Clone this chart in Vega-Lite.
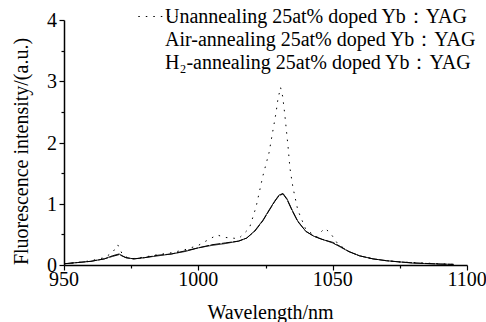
{
  "$schema": "https://vega.github.io/schema/vega-lite/v6.json",
  "width": 403,
  "height": 245,
  "autosize": {"type": "none"},
  "padding": {"left": 64, "top": 20, "right": 19, "bottom": 57},
  "background": "white",
  "config": {
    "font": "Liberation Serif",
    "view": {"stroke": null},
    "style": {"guide-label": {"font": "Liberation Serif"}, "guide-title": {"font": "Liberation Serif"}}
  },
  "datasets": {
    "xt": [{"t": 950}, {"t": 1000}, {"t": 1050}, {"t": 1100}],
    "yt": [{"v": 0}, {"v": 1}, {"v": 2}, {"v": 3}, {"v": 4}],
    "curves": [
      {"s": "Unannealing 25at% doped Yb：YAG", "wl": 950, "I": 0.02},
      {"s": "Unannealing 25at% doped Yb：YAG", "wl": 955, "I": 0.04},
      {"s": "Unannealing 25at% doped Yb：YAG", "wl": 960, "I": 0.07},
      {"s": "Unannealing 25at% doped Yb：YAG", "wl": 965, "I": 0.12},
      {"s": "Unannealing 25at% doped Yb：YAG", "wl": 968, "I": 0.2},
      {"s": "Unannealing 25at% doped Yb：YAG", "wl": 970, "I": 0.33},
      {"s": "Unannealing 25at% doped Yb：YAG", "wl": 972, "I": 0.15},
      {"s": "Unannealing 25at% doped Yb：YAG", "wl": 975, "I": 0.1},
      {"s": "Unannealing 25at% doped Yb：YAG", "wl": 980, "I": 0.13},
      {"s": "Unannealing 25at% doped Yb：YAG", "wl": 985, "I": 0.17},
      {"s": "Unannealing 25at% doped Yb：YAG", "wl": 990, "I": 0.2},
      {"s": "Unannealing 25at% doped Yb：YAG", "wl": 995, "I": 0.25},
      {"s": "Unannealing 25at% doped Yb：YAG", "wl": 1000, "I": 0.32},
      {"s": "Unannealing 25at% doped Yb：YAG", "wl": 1004, "I": 0.42},
      {"s": "Unannealing 25at% doped Yb：YAG", "wl": 1007, "I": 0.49},
      {"s": "Unannealing 25at% doped Yb：YAG", "wl": 1010, "I": 0.45},
      {"s": "Unannealing 25at% doped Yb：YAG", "wl": 1015, "I": 0.43},
      {"s": "Unannealing 25at% doped Yb：YAG", "wl": 1019, "I": 0.6},
      {"s": "Unannealing 25at% doped Yb：YAG", "wl": 1021.5, "I": 0.95},
      {"s": "Unannealing 25at% doped Yb：YAG", "wl": 1022.6, "I": 1.17},
      {"s": "Unannealing 25at% doped Yb：YAG", "wl": 1024, "I": 1.45},
      {"s": "Unannealing 25at% doped Yb：YAG", "wl": 1026.3, "I": 1.83},
      {"s": "Unannealing 25at% doped Yb：YAG", "wl": 1028.9, "I": 2.48},
      {"s": "Unannealing 25at% doped Yb：YAG", "wl": 1029.6, "I": 2.7},
      {"s": "Unannealing 25at% doped Yb：YAG", "wl": 1030.6, "I": 2.9},
      {"s": "Unannealing 25at% doped Yb：YAG", "wl": 1031.4, "I": 2.75},
      {"s": "Unannealing 25at% doped Yb：YAG", "wl": 1032.2, "I": 2.45},
      {"s": "Unannealing 25at% doped Yb：YAG", "wl": 1033.4, "I": 1.93},
      {"s": "Unannealing 25at% doped Yb：YAG", "wl": 1034.1, "I": 1.58},
      {"s": "Unannealing 25at% doped Yb：YAG", "wl": 1035.2, "I": 1.27},
      {"s": "Unannealing 25at% doped Yb：YAG", "wl": 1037, "I": 0.9},
      {"s": "Unannealing 25at% doped Yb：YAG", "wl": 1040, "I": 0.58},
      {"s": "Unannealing 25at% doped Yb：YAG", "wl": 1044, "I": 0.46},
      {"s": "Unannealing 25at% doped Yb：YAG", "wl": 1047, "I": 0.6},
      {"s": "Unannealing 25at% doped Yb：YAG", "wl": 1049, "I": 0.53},
      {"s": "Unannealing 25at% doped Yb：YAG", "wl": 1052, "I": 0.34},
      {"s": "Unannealing 25at% doped Yb：YAG", "wl": 1056, "I": 0.22},
      {"s": "Unannealing 25at% doped Yb：YAG", "wl": 1060, "I": 0.15},
      {"s": "Unannealing 25at% doped Yb：YAG", "wl": 1065, "I": 0.1},
      {"s": "Unannealing 25at% doped Yb：YAG", "wl": 1070, "I": 0.07},
      {"s": "Unannealing 25at% doped Yb：YAG", "wl": 1075, "I": 0.05},
      {"s": "Unannealing 25at% doped Yb：YAG", "wl": 1080, "I": 0.04},
      {"s": "Unannealing 25at% doped Yb：YAG", "wl": 1090, "I": 0.02},
      {"s": "Unannealing 25at% doped Yb：YAG", "wl": 1095, "I": 0.01},

      {"s": "Air-annealing 25at% doped Yb：YAG", "wl": 950, "I": 0.02},
      {"s": "Air-annealing 25at% doped Yb：YAG", "wl": 955, "I": 0.04},
      {"s": "Air-annealing 25at% doped Yb：YAG", "wl": 960, "I": 0.06},
      {"s": "Air-annealing 25at% doped Yb：YAG", "wl": 965, "I": 0.1},
      {"s": "Air-annealing 25at% doped Yb：YAG", "wl": 968, "I": 0.14},
      {"s": "Air-annealing 25at% doped Yb：YAG", "wl": 970.5, "I": 0.17},
      {"s": "Air-annealing 25at% doped Yb：YAG", "wl": 973, "I": 0.12},
      {"s": "Air-annealing 25at% doped Yb：YAG", "wl": 976, "I": 0.1},
      {"s": "Air-annealing 25at% doped Yb：YAG", "wl": 980, "I": 0.12},
      {"s": "Air-annealing 25at% doped Yb：YAG", "wl": 985, "I": 0.16},
      {"s": "Air-annealing 25at% doped Yb：YAG", "wl": 990, "I": 0.18},
      {"s": "Air-annealing 25at% doped Yb：YAG", "wl": 995, "I": 0.23},
      {"s": "Air-annealing 25at% doped Yb：YAG", "wl": 1000, "I": 0.28},
      {"s": "Air-annealing 25at% doped Yb：YAG", "wl": 1005, "I": 0.33},
      {"s": "Air-annealing 25at% doped Yb：YAG", "wl": 1010, "I": 0.36},
      {"s": "Air-annealing 25at% doped Yb：YAG", "wl": 1015, "I": 0.39},
      {"s": "Air-annealing 25at% doped Yb：YAG", "wl": 1018, "I": 0.44},
      {"s": "Air-annealing 25at% doped Yb：YAG", "wl": 1021, "I": 0.55},
      {"s": "Air-annealing 25at% doped Yb：YAG", "wl": 1024, "I": 0.72},
      {"s": "Air-annealing 25at% doped Yb：YAG", "wl": 1026.5, "I": 0.9},
      {"s": "Air-annealing 25at% doped Yb：YAG", "wl": 1028.5, "I": 1.04},
      {"s": "Air-annealing 25at% doped Yb：YAG", "wl": 1030, "I": 1.13},
      {"s": "Air-annealing 25at% doped Yb：YAG", "wl": 1031.5, "I": 1.16},
      {"s": "Air-annealing 25at% doped Yb：YAG", "wl": 1033, "I": 1.07},
      {"s": "Air-annealing 25at% doped Yb：YAG", "wl": 1035, "I": 0.88},
      {"s": "Air-annealing 25at% doped Yb：YAG", "wl": 1037, "I": 0.71},
      {"s": "Air-annealing 25at% doped Yb：YAG", "wl": 1040, "I": 0.55},
      {"s": "Air-annealing 25at% doped Yb：YAG", "wl": 1043, "I": 0.47},
      {"s": "Air-annealing 25at% doped Yb：YAG", "wl": 1046, "I": 0.42},
      {"s": "Air-annealing 25at% doped Yb：YAG", "wl": 1050, "I": 0.37},
      {"s": "Air-annealing 25at% doped Yb：YAG", "wl": 1053, "I": 0.3},
      {"s": "Air-annealing 25at% doped Yb：YAG", "wl": 1056, "I": 0.22},
      {"s": "Air-annealing 25at% doped Yb：YAG", "wl": 1060, "I": 0.15},
      {"s": "Air-annealing 25at% doped Yb：YAG", "wl": 1065, "I": 0.1},
      {"s": "Air-annealing 25at% doped Yb：YAG", "wl": 1070, "I": 0.07},
      {"s": "Air-annealing 25at% doped Yb：YAG", "wl": 1075, "I": 0.05},
      {"s": "Air-annealing 25at% doped Yb：YAG", "wl": 1080, "I": 0.035},
      {"s": "Air-annealing 25at% doped Yb：YAG", "wl": 1090, "I": 0.015},
      {"s": "Air-annealing 25at% doped Yb：YAG", "wl": 1095, "I": 0.01},

      {"s": "H₂-annealing 25at% doped Yb：YAG", "wl": 950, "I": 0.02},
      {"s": "H₂-annealing 25at% doped Yb：YAG", "wl": 955, "I": 0.04},
      {"s": "H₂-annealing 25at% doped Yb：YAG", "wl": 960, "I": 0.06},
      {"s": "H₂-annealing 25at% doped Yb：YAG", "wl": 965, "I": 0.1},
      {"s": "H₂-annealing 25at% doped Yb：YAG", "wl": 968, "I": 0.15},
      {"s": "H₂-annealing 25at% doped Yb：YAG", "wl": 970.5, "I": 0.18},
      {"s": "H₂-annealing 25at% doped Yb：YAG", "wl": 973, "I": 0.12},
      {"s": "H₂-annealing 25at% doped Yb：YAG", "wl": 976, "I": 0.1},
      {"s": "H₂-annealing 25at% doped Yb：YAG", "wl": 980, "I": 0.12},
      {"s": "H₂-annealing 25at% doped Yb：YAG", "wl": 985, "I": 0.15},
      {"s": "H₂-annealing 25at% doped Yb：YAG", "wl": 990, "I": 0.18},
      {"s": "H₂-annealing 25at% doped Yb：YAG", "wl": 995, "I": 0.22},
      {"s": "H₂-annealing 25at% doped Yb：YAG", "wl": 1000, "I": 0.28},
      {"s": "H₂-annealing 25at% doped Yb：YAG", "wl": 1005, "I": 0.32},
      {"s": "H₂-annealing 25at% doped Yb：YAG", "wl": 1010, "I": 0.35},
      {"s": "H₂-annealing 25at% doped Yb：YAG", "wl": 1015, "I": 0.39},
      {"s": "H₂-annealing 25at% doped Yb：YAG", "wl": 1018, "I": 0.44},
      {"s": "H₂-annealing 25at% doped Yb：YAG", "wl": 1021, "I": 0.56},
      {"s": "H₂-annealing 25at% doped Yb：YAG", "wl": 1024, "I": 0.73},
      {"s": "H₂-annealing 25at% doped Yb：YAG", "wl": 1026.5, "I": 0.91},
      {"s": "H₂-annealing 25at% doped Yb：YAG", "wl": 1028.5, "I": 1.05},
      {"s": "H₂-annealing 25at% doped Yb：YAG", "wl": 1030, "I": 1.14},
      {"s": "H₂-annealing 25at% doped Yb：YAG", "wl": 1031.5, "I": 1.17},
      {"s": "H₂-annealing 25at% doped Yb：YAG", "wl": 1033, "I": 1.08},
      {"s": "H₂-annealing 25at% doped Yb：YAG", "wl": 1035, "I": 0.89},
      {"s": "H₂-annealing 25at% doped Yb：YAG", "wl": 1037, "I": 0.72},
      {"s": "H₂-annealing 25at% doped Yb：YAG", "wl": 1040, "I": 0.55},
      {"s": "H₂-annealing 25at% doped Yb：YAG", "wl": 1043, "I": 0.47},
      {"s": "H₂-annealing 25at% doped Yb：YAG", "wl": 1046, "I": 0.42},
      {"s": "H₂-annealing 25at% doped Yb：YAG", "wl": 1050, "I": 0.36},
      {"s": "H₂-annealing 25at% doped Yb：YAG", "wl": 1053, "I": 0.29},
      {"s": "H₂-annealing 25at% doped Yb：YAG", "wl": 1056, "I": 0.22},
      {"s": "H₂-annealing 25at% doped Yb：YAG", "wl": 1060, "I": 0.15},
      {"s": "H₂-annealing 25at% doped Yb：YAG", "wl": 1065, "I": 0.1},
      {"s": "H₂-annealing 25at% doped Yb：YAG", "wl": 1070, "I": 0.07},
      {"s": "H₂-annealing 25at% doped Yb：YAG", "wl": 1075, "I": 0.05},
      {"s": "H₂-annealing 25at% doped Yb：YAG", "wl": 1080, "I": 0.03},
      {"s": "H₂-annealing 25at% doped Yb：YAG", "wl": 1090, "I": 0.015},
      {"s": "H₂-annealing 25at% doped Yb：YAG", "wl": 1095, "I": 0.01}
    ]
  },
  "layer": [
    {
      "data": {"name": "curves"},
      "mark": {"type": "line", "color": "black", "strokeWidth": 1, "clip": false},
      "encoding": {
        "x": {
          "field": "wl", "type": "quantitative",
          "scale": {"domain": [950, 1100], "nice": false, "zero": false},
          "axis": {
            "values": [950, 1000, 1050, 1100],
            "labels": false,
            "grid": false,
            "domainColor": "black",
            "domainWidth": 1.5,
            "tickColor": "black",
            "tickWidth": 1.2,
            "tickSize": 5,
            "title": "Wavelength/nm",
            "titleFont": "Liberation Serif",
            "titleFontSize": 20,
            "titleFontWeight": "normal",
            "titleColor": "black",
            "titleX": 206,
            "titleY": 47,
            "titleBaseline": "middle",
            "titleAnchor": "middle"
          }
        },
        "y": {
          "field": "I", "type": "quantitative",
          "scale": {"domain": [0, 4], "nice": false},
          "axis": {
            "values": [0, 1, 2, 3, 4],
            "labels": false,
            "grid": false,
            "domainColor": "black",
            "domainWidth": 1.5,
            "tickColor": "black",
            "tickWidth": 1.2,
            "tickSize": 5,
            "title": "Fluorescence intensity/(a.u.)",
            "titleFont": "Liberation Serif",
            "titleFontSize": 20,
            "titleFontWeight": "normal",
            "titleColor": "black",
            "titleX": -43,
            "titleY": 131,
            "titleAngle": -90,
            "titleBaseline": "middle",
            "titleAlign": "center"
          }
        },
        "strokeDash": {
          "field": "s", "type": "nominal",
          "scale": {
            "domain": ["Unannealing 25at% doped Yb：YAG", "Air-annealing 25at% doped Yb：YAG", "H₂-annealing 25at% doped Yb：YAG"],
            "range": [[1.5, 6], [10, 1.5], [1, 0]]
          },
          "legend": {
            "orient": "none",
            "legendX": 90,
            "legendY": -16,
            "title": null,
            "symbolType": "M-2.35,0H0.9",
            "symbolSize": 576,
            "symbolStrokeColor": "black",
            "symbolStrokeWidth": 1,
            "symbolDash": [4, 4],
            "labelFont": "Liberation Serif",
            "labelFontSize": 20,
            "labelColor": "black",
            "labelLimit": 400,
            "labelOffset": -14,
            "rowPadding": 0,
            "encode": {
              "symbols": {"update": {"opacity": {"signal": "datum.index === 0 ? 1 : 0"}}}
            }
          }
        }
      }
    },
    {
      "data": {"name": "curves"},
      "mark": {"type": "point", "opacity": 0},
      "encoding": {
        "x": {
          "field": "wl", "type": "quantitative",
          "axis": {"orient": "bottom", "values": [975, 1025, 1075], "labels": false, "domain": false, "grid": false, "tickColor": "black", "tickWidth": 1.2, "tickSize": 3, "title": null}
        },
        "y": {
          "field": "I", "type": "quantitative",
          "axis": {"orient": "left", "values": [0.5, 1.5, 2.5, 3.5], "labels": false, "domain": false, "grid": false, "tickColor": "black", "tickWidth": 1.2, "tickSize": 3, "title": null}
        }
      }
    },
    {
      "data": {"name": "xt"},
      "mark": {"type": "text", "font": "Liberation Serif", "fontSize": 20, "color": "black", "baseline": "middle", "align": "center", "dy": 15},
      "encoding": {
        "x": {"field": "t", "type": "quantitative", "axis": null},
        "y": {"datum": 0, "type": "quantitative", "axis": null},
        "text": {"field": "t", "type": "quantitative", "format": "d"}
      }
    },
    {
      "data": {"name": "yt"},
      "mark": {"type": "text", "font": "Liberation Serif", "fontSize": 20, "color": "black", "baseline": "middle", "align": "right", "dx": -7, "dy": 1},
      "encoding": {
        "x": {"datum": 950, "type": "quantitative", "axis": null},
        "y": {"field": "v", "type": "quantitative", "axis": null},
        "text": {"field": "v", "type": "quantitative", "format": "d"}
      }
    }
  ],
  "resolve": {"axis": {"x": "independent", "y": "independent"}}
}
